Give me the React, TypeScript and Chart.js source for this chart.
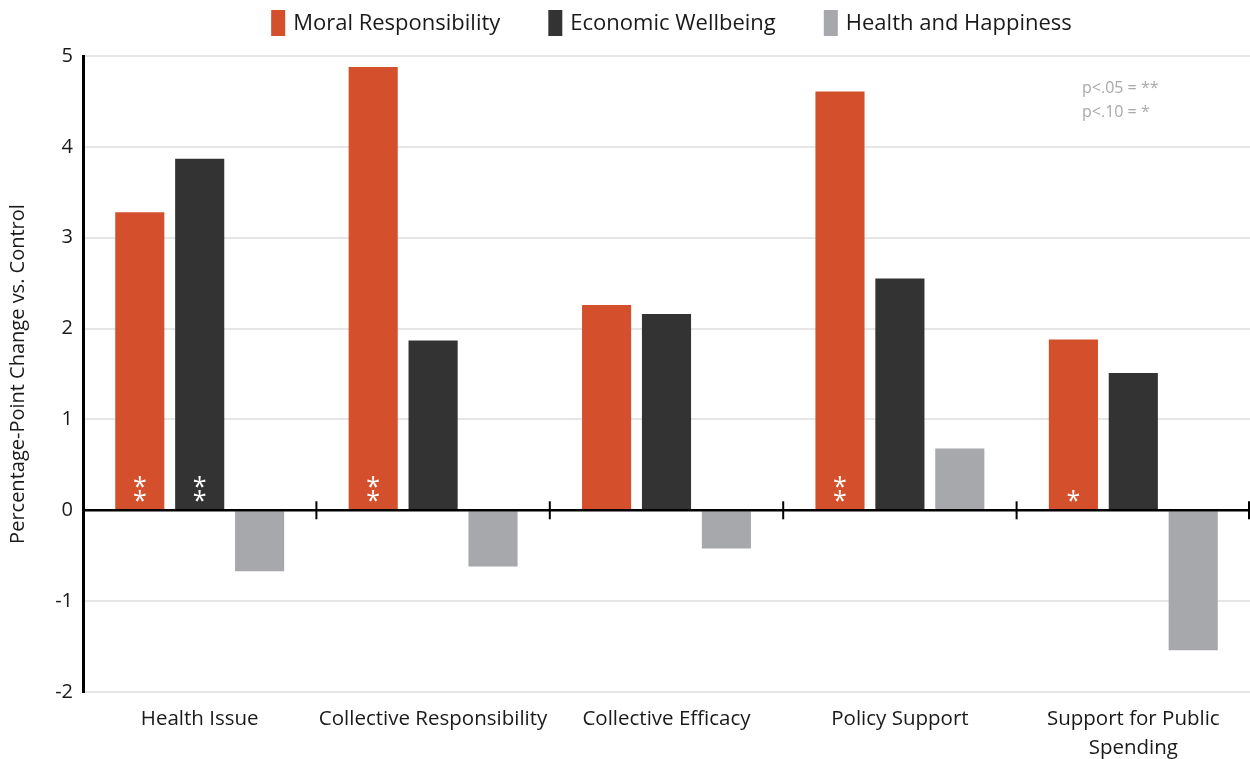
import React, { useEffect, useRef } from "react";
import { Chart, registerables } from "chart.js";
Chart.register(...registerables);

const categories: string[][] = [
  ["Health Issue"],
  ["Collective Responsibility"],
  ["Collective Efficacy"],
  ["Policy Support"],
  ["Support for Public", "Spending"],
];
const seriesNames = ["Moral Responsibility", "Economic Wellbeing", "Health and Happiness"];
const moralValues = [3.28, 4.88, 2.26, 4.61, 1.88];
const economicValues = [3.87, 1.87, 2.16, 2.55, 1.51];
const healthValues = [-0.67, -0.62, -0.42, 0.68, -1.54];
const moralSig = ["**", "**", "", "**", "*"];
const economicSig = ["**", "", "", "", ""];
const healthSig = ["", "", "", "", ""];
const yMin = -2;
const yMax = 5;
const yTitle = "Percentage-Point Change vs. Control";
const noteLines = ["p<.05 = **", "p<.10 = *"];

const colors = ["#d4502c", "#333333", "#a7a8ab"];
const FONT = "'Open Sans', sans-serif";

export default function App() {
  const ref = useRef<HTMLCanvasElement | null>(null);

  useEffect(() => {
    document.body.style.margin = "0";
    const sigs = [moralSig, economicSig, healthSig];

    const extras = {
      id: "extras",
      afterDatasetsDraw(chart: any) {
        const ctx = chart.ctx;
        const ys = chart.scales.y;
        const xs = chart.scales.x;
        const y0 = ys.getPixelForValue(0);
        ctx.save();
        ctx.strokeStyle = "#000";
        ctx.lineWidth = 2.5;
        ctx.beginPath();
        ctx.moveTo(chart.chartArea.left, y0);
        ctx.lineTo(chart.chartArea.right, y0);
        ctx.stroke();
        ctx.lineWidth = 2;
        for (let i = 0; i < categories.length; i++) {
          const x =
            i < categories.length - 1
              ? (xs.getPixelForValue(i) + xs.getPixelForValue(i + 1)) / 2
              : chart.chartArea.right - 1;
          ctx.beginPath();
          ctx.moveTo(x, y0 - 9);
          ctx.lineTo(x, y0 + 9);
          ctx.stroke();
        }
        ctx.fillStyle = "#ffffff";
        ctx.font = `25px ${FONT}`;
        ctx.textAlign = "center";
        ctx.textBaseline = "alphabetic";
        chart.data.datasets.forEach((_: any, di: number) => {
          const meta = chart.getDatasetMeta(di);
          meta.data.forEach((bar: any, i: number) => {
            const s = sigs[di][i];
            if (!s) return;
            for (let k = 0; k < s.length; k++) {
              ctx.fillText("*", bar.x, y0 - 1 - k * 14);
            }
          });
        });
        ctx.fillStyle = "#a9a9a9";
        ctx.font = `16px ${FONT}`;
        ctx.textAlign = "left";
        ctx.textBaseline = "middle";
        noteLines.forEach((t, i) => ctx.fillText(t, 1082, 88 + i * 24));
        ctx.restore();
      },
      afterDraw(chart: any) {
        const ctx = chart.ctx;
        ctx.save();
        ctx.font = `22px ${FONT}`;
        ctx.textBaseline = "middle";
        ctx.textAlign = "left";
        const boxW = 14;
        const gapText = 8;
        const gapItem = 48;
        const widths = seriesNames.map((n) => boxW + gapText + ctx.measureText(n).width);
        const total = widths.reduce((a, b) => a + b, 0) + gapItem * (seriesNames.length - 1);
        const center = (chart.chartArea.left + chart.chartArea.right) / 2 + 5;
        let x = center - total / 2;
        seriesNames.forEach((n, i) => {
          ctx.fillStyle = colors[i];
          ctx.fillRect(x, 10, boxW, 26);
          ctx.fillStyle = "#1a1a1a";
          ctx.fillText(n, x + boxW + gapText, 24);
          x += widths[i] + gapItem;
        });
        ctx.restore();
      },
    };

    const chart = new Chart(ref.current as HTMLCanvasElement, {
      type: "bar",
      data: {
        labels: categories,
        datasets: [
          { label: seriesNames[0], data: moralValues, backgroundColor: colors[0] },
          { label: seriesNames[1], data: economicValues, backgroundColor: colors[1] },
          { label: seriesNames[2], data: healthValues, backgroundColor: colors[2] },
        ],
      },
      options: {
        responsive: false,
        animation: false,
        layout: { padding: { top: 56, right: 0, left: 0, bottom: 0 } },
        datasets: { bar: { categoryPercentage: 0.77, barPercentage: 0.82 } },
        plugins: { legend: { display: false }, tooltip: { enabled: false } },
        scales: {
          x: {
            grid: { display: false, drawTicks: false },
            border: { display: false },
            ticks: {
              color: "#1a1a1a",
              font: { family: FONT, size: 20.5, lineHeight: 1.4 },
              padding: 13,
              maxRotation: 0,
              autoSkip: false,
            },
            afterFit(scale: any) {
              scale.height = 67;
            },
          },
          y: {
            min: yMin,
            max: yMax,
            ticks: {
              stepSize: 1,
              color: "#1a1a1a",
              font: { family: FONT, size: 20 },
              padding: 10,
            },
            grid: {
              drawTicks: false,
              color: (c: any) => (c.tick && c.tick.value === 0 ? "#000000" : "#e6e6e6"),
              lineWidth: 2,
            },
            border: { display: true, color: "#000000", width: 3 },
            title: {
              display: true,
              text: yTitle,
              color: "#1a1a1a",
              font: { family: FONT, size: 20 },
              padding: { top: 6, bottom: 0 },
            },
            afterFit(scale: any) {
              scale.width = 83;
            },
          },
        },
      },
      plugins: [extras],
    });
    return () => chart.destroy();
  }, []);

  return (
    <div style={{ position: "absolute", left: 0, top: 0, width: 1250, height: 759, background: "#fff" }}>
      <canvas ref={ref} width={1250} height={759} style={{ display: "block" }} />
    </div>
  );
}
